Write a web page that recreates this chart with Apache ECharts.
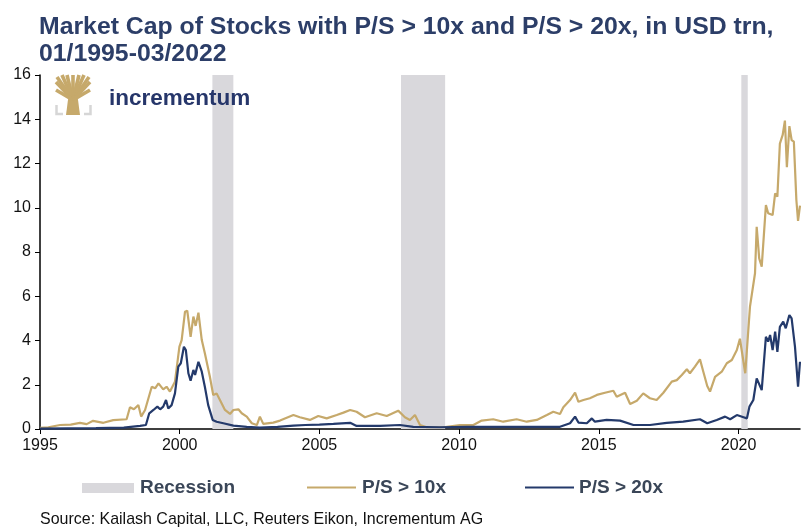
<!DOCTYPE html>
<html>
<head>
<meta charset="utf-8">
<script src="https://cdn.jsdelivr.net/npm/echarts@6/dist/echarts.min.js"></script>
<style>
  html, body { margin: 0; padding: 0; background: #fff; }
  #chart { width: 801px; height: 528px; }
</style>
</head>
<body>
<div id="chart"></div>
<script>
// dates as decimal years
const dates10 = [1995.0, 1995.3, 1995.72, 1996.1, 1996.43, 1996.67, 1996.9, 1997.27, 1997.62, 1998.1,
  1998.22, 1998.36, 1998.52, 1998.62, 1998.76, 1999.0, 1999.12, 1999.24, 1999.41, 1999.53,
  1999.65, 1999.83, 1999.99, 2000.07, 2000.19, 2000.27, 2000.39, 2000.49, 2000.57, 2000.67,
  2000.79, 2000.9, 2001.08, 2001.2, 2001.32, 2001.44, 2001.62, 2001.8, 2001.92, 2002.1,
  2002.22, 2002.4, 2002.58, 2002.76, 2002.87, 2002.99, 2003.35, 2003.59, 2004.07, 2004.3,
  2004.66, 2004.96, 2005.26, 2005.62, 2005.86, 2006.1, 2006.33, 2006.63, 2007.05, 2007.41,
  2007.82, 2008.06, 2008.24, 2008.42, 2008.6, 2008.84, 2009.43, 2010.03, 2010.51, 2010.81,
  2011.22, 2011.58, 2012.06, 2012.42, 2012.78, 2013.14, 2013.37, 2013.61, 2013.73, 2013.97,
  2014.15, 2014.27, 2014.45, 2014.68, 2014.93, 2015.22, 2015.52, 2015.64, 2015.94, 2016.12,
  2016.36, 2016.59, 2016.83, 2017.07, 2017.31, 2017.61, 2017.79, 2017.97, 2018.15, 2018.26,
  2018.44, 2018.62, 2018.74, 2018.88, 2018.98, 2019.16, 2019.4, 2019.58, 2019.76, 2019.94,
  2020.05, 2020.24, 2020.41, 2020.59, 2020.65, 2020.74, 2020.83, 2020.98, 2021.06, 2021.22,
  2021.31, 2021.39, 2021.48, 2021.58, 2021.66, 2021.73, 2021.82, 2021.9, 2021.98, 2022.07,
  2022.13, 2022.2];
const ps10 = [0.05, 0.08, 0.18, 0.2, 0.28, 0.22, 0.37, 0.28, 0.4, 0.44,
  0.98, 0.89, 1.08, 0.56, 0.86, 1.91, 1.84, 2.06, 1.79, 1.91,
  1.69, 2.14, 3.72, 4.02, 5.3, 5.35, 4.17, 5.08, 4.66, 5.26,
  4.02, 3.42, 2.36, 1.54, 1.61, 1.31, 0.86, 0.68, 0.86, 0.89,
  0.71, 0.56, 0.26, 0.18, 0.56, 0.23, 0.29, 0.38, 0.63, 0.53,
  0.41, 0.59, 0.48, 0.63, 0.74, 0.86, 0.78, 0.53, 0.71, 0.59,
  0.83, 0.53, 0.41, 0.63, 0.18, 0.08, 0.08, 0.18, 0.18, 0.38,
  0.44, 0.33, 0.44, 0.33, 0.41, 0.63, 0.78, 0.68, 0.98, 1.31,
  1.64, 1.23, 1.31, 1.39, 1.54, 1.64, 1.73, 1.46, 1.64, 1.13,
  1.28, 1.61, 1.39, 1.31, 1.64, 2.14, 2.21, 2.44, 2.7, 2.52,
  2.82, 3.15, 2.59, 1.94, 1.69, 2.36, 2.59, 2.97, 3.12, 3.57,
  4.08, 2.52, 5.53, 7.04, 9.14, 7.71, 7.34, 10.12, 9.75, 9.67,
  10.65, 10.5, 12.9, 13.29, 13.94, 11.83, 13.69, 13.06, 12.99, 10.35,
  9.41, 10.1];

const dates20 = [1995.0, 1996.0, 1997.0, 1998.0, 1998.58, 1998.79, 1998.91, 1999.06, 1999.2, 1999.3,
  1999.41, 1999.51, 1999.59, 1999.71, 1999.83, 1999.95, 2000.04, 2000.15, 2000.22, 2000.31,
  2000.39, 2000.49, 2000.55, 2000.67, 2000.79, 2000.9, 2001.02, 2001.08, 2001.18, 2001.32,
  2001.56, 2001.92, 2002.4, 2002.87, 2003.5, 2004.07, 2004.5, 2005.0, 2005.5, 2006.1,
  2006.33, 2007.17, 2007.88, 2008.36, 2009.31, 2010.27, 2011.46, 2012.66, 2013.61, 2013.97,
  2014.15, 2014.27, 2014.57, 2014.75, 2014.86, 2015.28, 2015.76, 2016.24, 2016.83, 2017.43,
  2018.02, 2018.62, 2018.88, 2019.22, 2019.52, 2019.7, 2019.94, 2020.18, 2020.3, 2020.39,
  2020.53, 2020.65, 2020.83, 2020.98, 2021.06, 2021.13, 2021.22, 2021.31, 2021.39, 2021.48,
  2021.6, 2021.69, 2021.82, 2021.9, 2022.02, 2022.13, 2022.2];
const ps20 = [0.02, 0.03, 0.04, 0.06, 0.14, 0.18, 0.71, 0.86, 1.01, 0.89,
  1.01, 1.31, 0.93, 1.08, 1.61, 2.82, 2.97, 3.72, 3.57, 2.52,
  2.18, 2.67, 2.44, 3.04, 2.59, 1.91, 1.08, 1.16, 0.41, 0.33,
  0.26, 0.15, 0.1, 0.06, 0.1, 0.15, 0.18, 0.2, 0.23, 0.28,
  0.14, 0.14, 0.18, 0.1, 0.08, 0.1, 0.1, 0.1, 0.1, 0.26,
  0.56, 0.29, 0.26, 0.48, 0.33, 0.41, 0.38, 0.18, 0.18, 0.28,
  0.33, 0.44, 0.26, 0.41, 0.56, 0.44, 0.63, 0.53, 0.48, 1.01,
  1.31, 2.29, 1.76, 4.17, 3.95, 4.25, 3.57, 4.4, 3.49, 4.62,
  4.85, 4.55, 5.15, 5.0, 3.72, 1.91, 3.04];

const recessions = [[2001.17, 2001.92], [2007.92, 2009.5], [2020.1, 2020.33]];
const xTicks = [1995, 2000, 2005, 2010, 2015, 2020];

const gold = '#c6a96b';
const navy = '#243a6b';
const chart = echarts.init(document.getElementById('chart'));

const legendFont = 'bold 19px "Liberation Sans", Arial, sans-serif';

// tree branches of the logo: from the trunk top out to the crown
const branchEnds = [[56, 82], [57, 77], [62, 75], [67, 75], [73, 75], [79, 75], [84, 75], [89, 77], [90, 82], [56, 90], [90, 90]];

chart.setOption({
  animation: false,
  title: {
    text: 'Market Cap of Stocks with P/S > 10x and P/S > 20x, in USD trn,\n01/1995-03/2022',
    left: 34, top: 9,
    textStyle: { fontFamily: '"Liberation Sans", Arial, sans-serif', fontWeight: 'bold', fontSize: 24.8, lineHeight: 27, color: '#2c3e68' }
  },
  grid: { left: 40, right: 1, top: 75, bottom: 99 },
  xAxis: {
    type: 'value', min: 1995, max: 2022.2, interval: 5,
    axisLine: { lineStyle: { color: '#000', width: 1.5 } },
    axisTick: { show: true, length: 5, lineStyle: { color: '#000' } },
    splitLine: { show: false },
    axisLabel: {
      margin: 9, color: '#111', fontSize: 16, fontFamily: '"Liberation Sans", Arial, sans-serif',
      showMaxLabel: false,
      formatter: v => xTicks.includes(v) ? String(v) : ''
    }
  },
  yAxis: {
    type: 'value', min: 0, max: 16, interval: 2,
    axisLine: { show: true, lineStyle: { color: '#000', width: 1.5 } },
    axisTick: { show: true, length: 5, lineStyle: { color: '#000' } },
    splitLine: { show: false },
    axisLabel: { margin: 9, color: '#111', fontSize: 16, fontFamily: '"Liberation Sans", Arial, sans-serif' }
  },
  series: [
    {
      type: 'line', data: [], z: 1, silent: true,
      markArea: {
        silent: true,
        itemStyle: { color: '#d9d8dc' },
        data: recessions.map(r => [{ xAxis: r[0] }, { xAxis: r[1] }])
      }
    },
    {
      name: 'P/S > 10x', type: 'line', z: 3, showSymbol: false,
      lineStyle: { color: gold, width: 2.2 },
      data: dates10.map((d, i) => [d, ps10[i]])
    },
    {
      name: 'P/S > 20x', type: 'line', z: 4, showSymbol: false,
      lineStyle: { color: navy, width: 2.2 },
      data: dates20.map((d, i) => [d, ps20[i]])
    }
  ],
  graphic: [
    // logo icon
    { type: 'polygon', z: 50, shape: { points: [[66, 115], [80, 115], [77.5, 96], [68.5, 96]] }, style: { fill: gold } },
    ...branchEnds.map(p => ({ type: 'polyline', z: 50, shape: { points: [[73, 100], p] }, style: { stroke: gold, lineWidth: 3.6, fill: null } })),
    { type: 'polyline', z: 50, shape: { points: [[56.5, 105], [56.5, 114], [63, 114]] }, style: { stroke: '#d6d6d6', lineWidth: 2.5, fill: null } },
    { type: 'polyline', z: 50, shape: { points: [[90.5, 105], [90.5, 114], [84, 114]] }, style: { stroke: '#d6d6d6', lineWidth: 2.5, fill: null } },
    { type: 'text', z: 50, x: 109, y: 99, style: { text: 'incrementum', fill: '#26366a', font: 'bold 22.5px "Liberation Sans", Arial, sans-serif', verticalAlign: 'middle' } },
    // legend
    { type: 'rect', shape: { x: 82, y: 483, width: 52, height: 10 }, style: { fill: '#d9d8dc' } },
    { type: 'text', x: 140, y: 488, style: { text: 'Recession', fill: '#3a4658', font: legendFont, verticalAlign: 'middle' } },
    { type: 'line', shape: { x1: 307, y1: 487.5, x2: 356, y2: 487.5 }, style: { stroke: gold, lineWidth: 2 } },
    { type: 'text', x: 362, y: 488, style: { text: 'P/S > 10x', fill: '#3a4658', font: legendFont, verticalAlign: 'middle' } },
    { type: 'line', shape: { x1: 525, y1: 487.5, x2: 574, y2: 487.5 }, style: { stroke: navy, lineWidth: 2 } },
    { type: 'text', x: 579, y: 488, style: { text: 'P/S > 20x', fill: '#3a4658', font: legendFont, verticalAlign: 'middle' } },
    // source (condensed like the original)
    { type: 'text', x: 40, y: 519, scaleX: 0.94, style: { text: 'Source: Kailash Capital, LLC, Reuters Eikon, Incrementum AG', fill: '#111', font: '17px "Liberation Sans", Arial, sans-serif', verticalAlign: 'middle' } }
  ]
});
</script>
</body>
</html>
